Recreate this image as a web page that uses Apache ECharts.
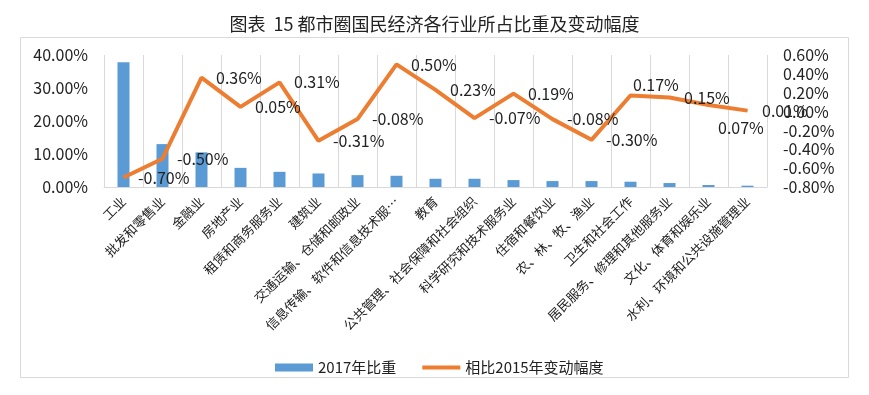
<!DOCTYPE html>
<html><head><meta charset="utf-8">
<script src="https://cdn.jsdelivr.net/npm/echarts@6/dist/echarts.min.js"></script>
<style>html,body{margin:0;padding:0;background:#fff}#c{width:869px;height:395px}</style>
</head><body><div id="c"></div>
<script>
const categories = ['工业','批发和零售业','金融业','房地产业','租赁和商务服务业','建筑业','交通运输、仓储和邮政业','信息传输、软件和信息技术服…','教育','公共管理、社会保障和社会组织','科学研究和技术服务业','住宿和餐饮业','农、林、牧、渔业','卫生和社会工作','居民服务、修理和其他服务业','文化、体育和娱乐业','水利、环境和公共设施管理业'];
const share2017 = [37.8,13.0,10.5,5.8,4.6,4.1,3.6,3.4,2.5,2.5,2.1,1.8,1.8,1.6,1.2,0.6,0.4];
const change2015 = [-0.70,-0.50,0.36,0.05,0.31,-0.31,-0.08,0.50,0.23,-0.07,0.19,-0.08,-0.30,0.17,0.15,0.07,0.01];
const leftTicks = {min:0,max:40,interval:10};
const rightTicks = {min:-0.8,max:0.6,interval:0.2};
const titleText = '图表  15 都市圈国民经济各行业所占比重及变动幅度';
const F = '"Noto Sans CJK SC","Noto Sans",sans-serif';
// label placement tweaks (layout only)
const labelPlace = {13:[3,-10],15:[10,23]};
const lineData = change2015.map((v,i)=> labelPlace[i] ? {value:v,label:{position:labelPlace[i],align:'left',verticalAlign:'middle'}} : v);
const chart = echarts.init(document.getElementById('c'));
chart.setOption({
  animation:false,
  textStyle:{fontFamily:F},
  title:{text:titleText,left:'center',top:10,textStyle:{fontFamily:F,fontSize:18,fontWeight:'normal',color:'#222'}},
  graphic:[{type:'rect',shape:{x:20.5,y:37.5,width:828,height:340},style:{fill:'none',stroke:'#d9d9d9',lineWidth:1},silent:true}],
  legend:{left:270,top:355,itemWidth:38,itemHeight:8,itemGap:26,textStyle:{fontFamily:F,fontSize:15,color:'#222'},
    data:[{name:'2017年比重',icon:'rect'},{name:'相比2015年变动幅度',icon:'path://M0,0M38,8M0,2H38V6H0Z'}]},
  grid:{left:104,right:102,top:55,bottom:208},
  xAxis:{type:'category',data:categories,boundaryGap:true,
    axisLine:{lineStyle:{color:'#d9d9d9'}},axisTick:{show:false},
    splitLine:{show:true,interval:0,lineStyle:{color:'#d9d9d9'}},
    axisLabel:{interval:0,rotate:45,fontSize:13,color:'#222',fontFamily:F,margin:12}},
  yAxis:[
    {type:'value',min:leftTicks.min,max:leftTicks.max,interval:leftTicks.interval,splitLine:{show:false},
     axisLine:{show:false},axisTick:{show:false},
     axisLabel:{fontSize:16,color:'#222',fontFamily:F,margin:16,formatter:v=>v.toFixed(2)+'%'}},
    {type:'value',min:rightTicks.min,max:rightTicks.max,interval:rightTicks.interval,splitLine:{show:false},
     axisLine:{show:false},axisTick:{show:false},
     axisLabel:{fontSize:16,color:'#222',fontFamily:F,margin:16,formatter:v=>v.toFixed(2)+'%'}}
  ],
  series:[
    {name:'2017年比重',type:'bar',data:share2017,barWidth:12,itemStyle:{color:'#5b9bd5'},yAxisIndex:0},
    {name:'相比2015年变动幅度',type:'line',data:lineData,yAxisIndex:1,symbol:'circle',symbolSize:1,showSymbol:true,
     lineStyle:{color:'#ed7d31',width:4},itemStyle:{color:'#ed7d31'},z:3,
     label:{show:true,position:'right',distance:14,fontSize:16,color:'#222',fontFamily:F,formatter:p=>p.value.toFixed(2)+'%'}}
  ]
});
</script></body></html>
